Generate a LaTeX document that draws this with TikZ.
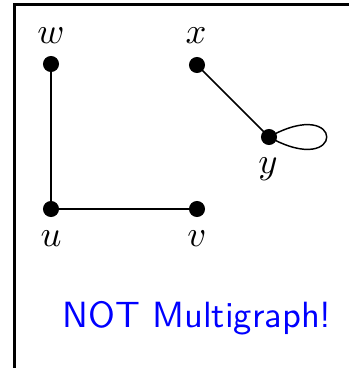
\documentclass[tikz,border=0pt]{standalone}
\begin{document}
\begin{tikzpicture}[x=0.274pt,y=-0.274pt,
  dotnode/.style={circle,fill=black,inner sep=0pt,minimum size=4.4pt},
  lbl/.style={anchor=base,inner sep=0pt},
  edge/.style={line width=0.4pt}]
\useasboundingbox (0,0) rectangle (349,368);
\clip (0,0) rectangle (349,368);
\draw[line width=0.6pt] (14.5,4.5) rectangle (420,420);
\node[dotnode] (w) at (51,64) {};
\node[dotnode] (x) at (197,65) {};
\node[dotnode] (y) at (269,137) {};
\node[dotnode] (u) at (51,209) {};
\node[dotnode] (v) at (197,209) {};
\node[lbl] (lw) at (51,43) {$w$};
\node[lbl] (lx) at (196,43) {$x$};
\node[lbl] (ly) at (268,173) {$y$};
\node[lbl] (lu) at (51,246) {$u$};
\node[lbl] (lv) at (197,246) {$v$};
\draw[edge] (w.center) -- (u.center) -- (v.center);
\draw[edge] (x.center) -- (y.center);
\draw[edge] (y.center) .. controls +(77,-43) and +(77,43) .. (y.center);
\node[anchor=base west,inner sep=0pt,text=blue,font=\sffamily] (t) at (62,327) {NOT Multigraph!};
\end{tikzpicture}
\end{document}
